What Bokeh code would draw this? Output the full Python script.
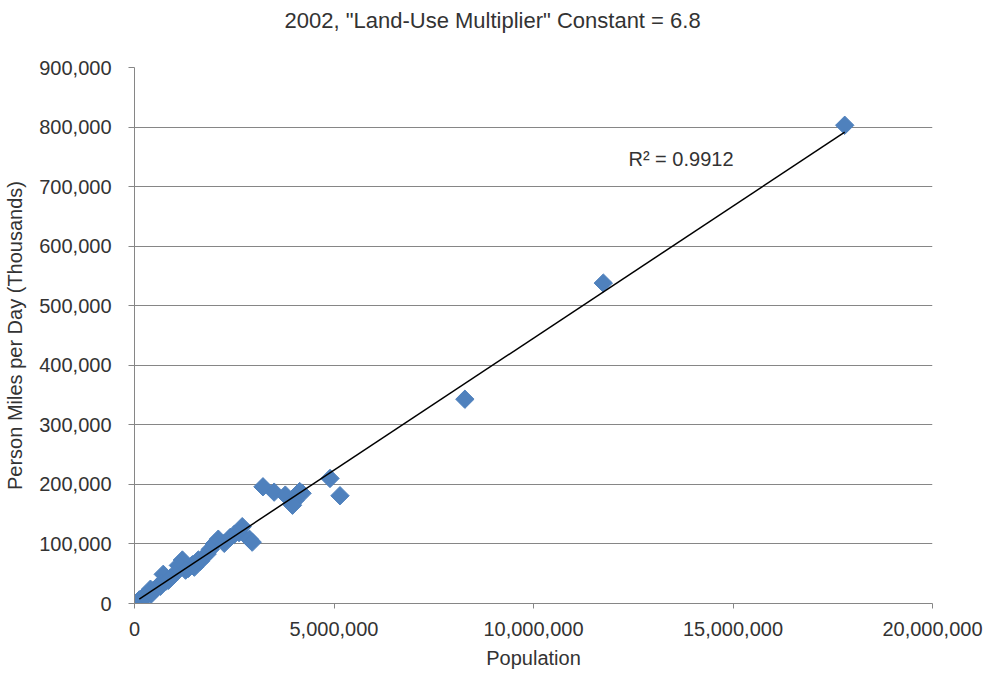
import numpy as np
from bokeh.plotting import figure
from bokeh.models import Range1d, FixedTicker, NumeralTickFormatter, Label, Title
from bokeh.embed import file_html
from bokeh.resources import INLINE

# Population (persons) and person miles per day (thousands)
population = [17800000, 11750000, 8280000, 4900000, 5150000, 3220000, 3500000, 3780000,
              3950000, 4020000, 4200000, 3960000, 4140000,
              2700000, 2620000, 2880000, 2950000, 2500000, 2100000, 2000000, 1900000,
              1820000, 1720000, 1650000, 1550000, 1450000, 1350000, 1200000, 1100000,
              1280000, 1000000, 900000, 800000, 720000, 680000, 600000, 550000, 500000,
              450000, 400000, 350000, 300000, 250000, 220000, 180000, 150000, 120000,
              280000, 420000, 650000, 850000, 1500000, 1600000, 2250000, 2400000]
pmd = [803000, 538000, 343000, 210000, 181000, 196000, 187000, 182000,
       168000, 173000, 185000, 165000, 188000,
       129000, 119000, 108000, 103000, 116000, 108000, 100000, 91000,
       83000, 77000, 71000, 69000, 65000, 59000, 73000, 64000,
       56000, 49000, 43000, 38000, 49000, 34000, 30000, 26000, 23000,
       21000, 24000, 18000, 15000, 12000, 10000, 8000, 7000, 6000,
       11000, 16000, 29000, 39000, 61000, 73000, 101000, 111000]
r2_text = "R\u00b2 = 0.9912"
title_text = '2002, "Land-Use Multiplier"  Constant = 6.8'
x_ticks = [0, 5000000, 10000000, 15000000, 20000000]
y_ticks = [0, 100000, 200000, 300000, 400000, 500000, 600000, 700000, 800000, 900000]

FONT = "Liberation Sans"
TXT = "#333333"
GRAY = "#868686"

p = figure(width=987, height=675, output_backend="svg", toolbar_location=None,
           title=None,
           x_range=Range1d(0, 20000000), y_range=Range1d(0, 900000),
           min_border_left=134, min_border_right=55, min_border_top=67, min_border_bottom=72)
p.outline_line_color = None
p.background_fill_color = "white"

# spacer panel between frame and title, then the title itself
p.add_layout(Title(text=" ", text_font=FONT, text_font_size="28px", standoff=0), "above")
p.add_layout(Title(text=title_text, text_font=FONT, text_font_size="22px",
                   text_font_style="normal", text_color=TXT, align="left",
                   offset=150, standoff=4), "above")

for ax in (p.xaxis, p.yaxis):
    ax.axis_line_color = GRAY
    ax.major_tick_line_color = GRAY
    ax.major_tick_in = 0
    ax.minor_tick_line_color = None
    ax.major_label_text_font = FONT
    ax.major_label_text_font_size = "20px"
    ax.major_label_text_color = TXT
    ax.axis_label_text_font = FONT
    ax.axis_label_text_font_size = "20px"
    ax.axis_label_text_font_style = "normal"
    ax.axis_label_text_color = TXT
    ax.formatter = NumeralTickFormatter(format="0,0")

p.xaxis.ticker = FixedTicker(ticks=x_ticks)
p.yaxis.ticker = FixedTicker(ticks=y_ticks)
p.xaxis.major_tick_out = 5
p.yaxis.major_tick_out = 6
p.xaxis.axis_label = "Population"
p.yaxis.axis_label = "Person Miles per Day (Thousands)"
p.xaxis.major_label_standoff = 13
p.yaxis.major_label_standoff = 17
p.xaxis.axis_label_standoff = 8
p.yaxis.axis_label_standoff = 10

p.xgrid.grid_line_color = None
p.ygrid.grid_line_color = GRAY
p.ygrid.grid_line_width = 1

xs = np.array(population, dtype=float)
ys = np.array(pmd, dtype=float)
p.scatter(xs, ys, marker="square", size=13, angle=np.pi / 4,
          fill_color="#4F81BD", line_color="#4F81BD")

m, b = np.polyfit(xs, ys, 1)
x0, x1 = xs.min(), xs.max()
p.line([x0, x1], [m * x0 + b, m * x1 + b], line_color="black", line_width=1.5)

p.add_layout(Label(x=12380000, y=747000, text=r2_text, text_font=FONT,
                   text_font_size="20px", text_baseline="middle", text_color=TXT))

open("out.html", "w").write(file_html(p, INLINE))
